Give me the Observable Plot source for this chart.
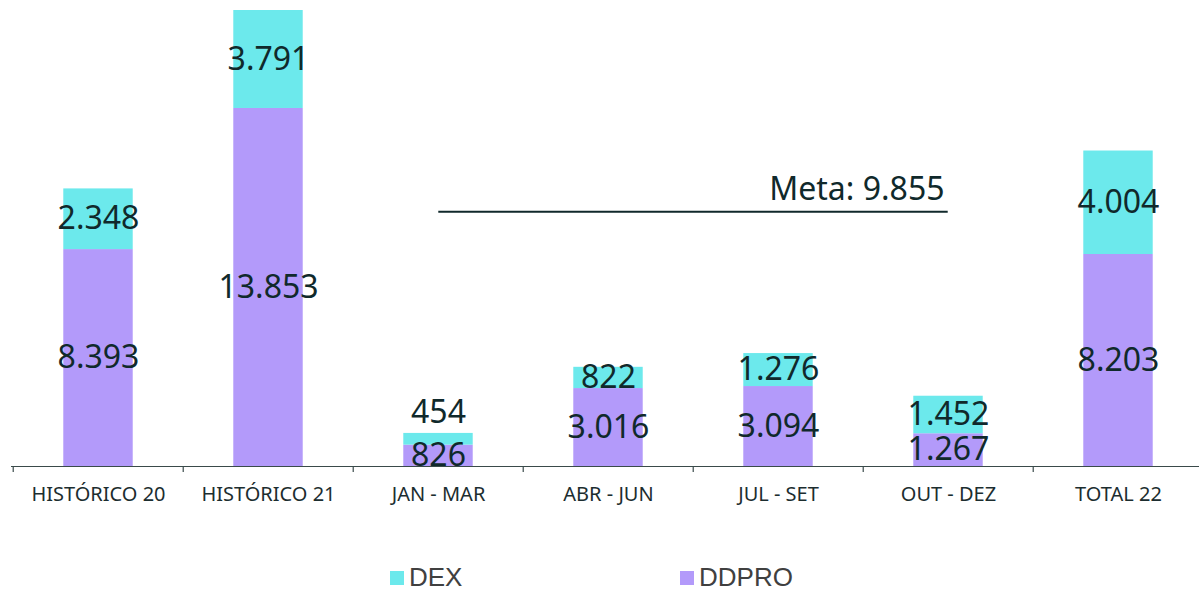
<!DOCTYPE html>
<html>
<head>
<meta charset="utf-8">
<script src="https://cdn.jsdelivr.net/npm/d3@7"></script>
<script src="https://cdn.jsdelivr.net/npm/@observablehq/plot@0.6"></script>
<style>
  html, body { margin: 0; padding: 0; background: #fff; overflow: hidden; width: 1199px; height: 590px; }
  #chart { position: absolute; left: 0; top: 0; }
  #chart svg { max-width: none !important; }
  #legend { position: absolute; top: 562px; left: 0; width: 1199px; height: 36px; font-family: "Liberation Sans", Arial, sans-serif; font-size: 26px; color: #404040; }
  .item { position: absolute; top: 0; display: flex; align-items: center; }
  .sw { width: 14px; height: 14px; margin-right: 5px; }
</style>
</head>
<body>
<div id="chart"></div>
<div id="legend"></div>
<script>
const categories = ["HISTÓRICO 20", "HISTÓRICO 21", "JAN - MAR", "ABR - JUN", "JUL - SET", "OUT - DEZ", "TOTAL 22"];
const ddpro = [8393, 13853, 826, 3016, 3094, 1267, 8203];
const dex = [2348, 3791, 454, 822, 1276, 1452, 4004];
const meta = 9855;
const metaFrom = "JAN - MAR";
const metaTo = "OUT - DEZ";
const seriesNames = ["DEX", "DDPRO"];
const colors = { DEX: "#6ce9ec", DDPRO: "#b39afa" };

const fmt = v => d3.format(",")(v).replace(/,/g, ".");

const rows = [];
categories.forEach((c, i) => {
  rows.push({ cat: c, series: "DDPRO", value: ddpro[i], y1: 0, y2: ddpro[i] });
  rows.push({ cat: c, series: "DEX", value: dex[i], y1: ddpro[i], y2: ddpro[i] + dex[i] });
});
const labels = rows.map(r => {
  const small = r.value < 600;
  return { cat: r.cat, text: fmt(r.value), y: small ? r.y2 : (r.y1 + r.y2) / 2, above: small };
});
const totals = categories.map((c, i) => ddpro[i] + dex[i]);

const W = 1205, H = 520, mL = 11, mR = 0;
const bw = (W - mL - mR) / categories.length;
const barW = 70;
const inset = (bw - barW) / 2;
const ink = "#10292b";

const chart = Plot.plot({
  width: W,
  height: H,
  marginLeft: mL,
  marginRight: mR,
  marginTop: 10,
  marginBottom: 54,
  style: { fontFamily: "'Noto Sans', sans-serif", overflow: "visible", maxWidth: "none" },
  x: { domain: categories, padding: 0, axis: null, label: null },
  y: { domain: [0, d3.max(totals)], axis: null },
  marks: [
    Plot.barY(rows, { x: "cat", y1: "y1", y2: "y2", fill: d => colors[d.series], insetLeft: inset, insetRight: inset }),
    Plot.ruleY([0], { stroke: "#3a4a4a", strokeWidth: 1.2 }),
    Plot.axisX({ tickSize: 6, tickFormat: () => "", label: null, dx: -bw / 2, stroke: "#3a4a4a", strokeWidth: 1.2 }),
    Plot.axisX({ tickSize: 0, tickPadding: 20, fontSize: 20, label: null, fill: "#1c2d2f", tickFormat: d => d }),
    Plot.text(labels.filter(d => !d.above), { x: "cat", y: "y", text: "text", fontSize: 32, fill: ink }),
    Plot.text(labels.filter(d => d.above), { x: "cat", y: "y", text: "text", fontSize: 32, fill: ink, dy: -21 }),
    Plot.ruleY([meta], { x1: () => metaFrom, x2: () => metaTo, insetLeft: bw / 2, insetRight: bw / 2, stroke: ink, strokeWidth: 2 }),
    Plot.text([meta], { x: () => metaTo, y: d => d, text: d => "Meta: " + fmt(d), textAnchor: "end", dx: -4, dy: -22, fontSize: 32, fill: ink })
  ]
});
document.getElementById("chart").appendChild(chart);

const legend = document.getElementById("legend");
const legendX = { DEX: 390, DDPRO: 680 };
seriesNames.forEach(s => {
  const it = document.createElement("div");
  it.className = "item";
  it.style.left = legendX[s] + "px";
  const sw = document.createElement("div");
  sw.className = "sw";
  sw.style.background = colors[s];
  const t = document.createElement("span");
  t.textContent = s;
  it.appendChild(sw);
  it.appendChild(t);
  legend.appendChild(it);
});
</script>
</body>
</html>
